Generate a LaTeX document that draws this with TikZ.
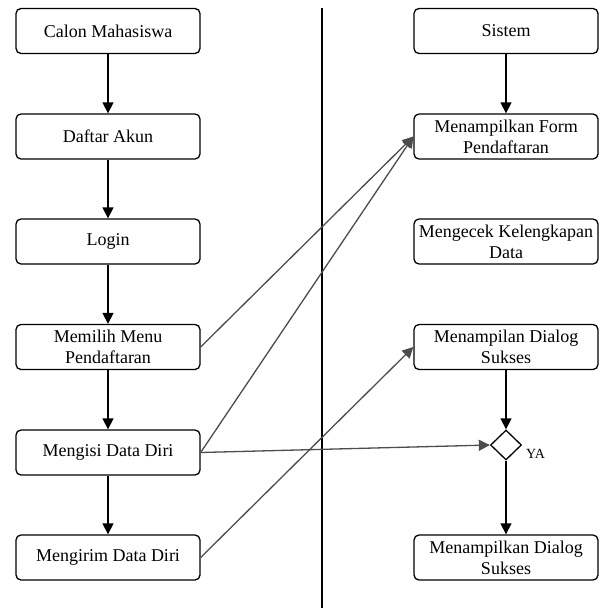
\documentclass[tikz,border=0pt]{standalone}
\usepackage{fontspec}
\newfontfamily\hurufserif{Liberation Serif}
\usetikzlibrary{arrows.meta,shapes.geometric}
\begin{document}
\begin{tikzpicture}[
        x=1pt, y=-1pt,
        every node/.style={font=\hurufserif\fontsize{18}{21}\selectfont},
        langkah/.style={draw, rectangle, rounded corners=5pt, minimum width=184pt, minimum height=45pt, inner sep=1pt, align=center, line width=1.3pt},
        keputusan/.style={draw, diamond, minimum width=31pt, minimum height=30pt, inner sep=0pt, line width=1.3pt},
        alur/.style={draw, line width=1.3pt, -{Triangle[length=11pt,width=11pt]}},
        silang/.style={alur, black!70}
    ]
        \useasboundingbox (0,0) rectangle (602,608);

        \node[langkah] (calon) at (108, 31) {Calon Mahasiswa};
        \node[langkah] (daftar) at (108, 136.5) {Daftar Akun};
        \node[langkah] (login) at (108, 241.5) {Login};
        \node[langkah] (menu) at (108, 347) {Memilih Menu\\Pendaftaran};
        \node[langkah] (isi) at (108, 452.5) {Mengisi Data Diri};
        \node[langkah] (kirim) at (108, 557.5) {Mengirim Data Diri};

        \node[langkah] (sistem) at (506, 31) {Sistem};
        \node[langkah] (form) at (506, 136.5) {Menampilkan Form\\Pendaftaran};
        \node[langkah] (cek) at (506, 241.5) {Mengecek Kelengkapan\\Data};
        \node[langkah] (dialog) at (506, 347) {Menampilan Dialog\\Sukses};
        \node[keputusan] (pilih) at (506, 445) {};
        \node[font=\hurufserif\fontsize{14}{16}\selectfont, anchor=west, inner sep=0pt] (ya) at (526, 454) {YA};
        \node[langkah] (sukses) at (506, 557.5) {Menampilkan Dialog\\Sukses};

        \coordinate (batas atas) at (322, 8);
        \coordinate (batas bawah) at (322, 608);
        \draw[line width=1.3pt] (batas atas) -- (batas bawah);

        \draw[alur] (calon) -- (daftar);
        \draw[alur] (daftar) -- (login);
        \draw[alur] (login) -- (menu);
        \draw[alur] (menu) -- (isi);
        \draw[alur] (isi) -- (kirim);
        \draw[alur] (sistem) -- (form);
        \draw[alur] (dialog) -- (pilih);
        \draw[alur] (pilih) -- (sukses);

        \draw[silang] (menu.east) -- (form.west);
        \draw[silang] (isi.east) -- (form.west);
        \draw[silang] (isi.east) -- (pilih.west);
        \draw[silang] (kirim.east) -- (dialog.west);
    \end{tikzpicture}
\end{document}
